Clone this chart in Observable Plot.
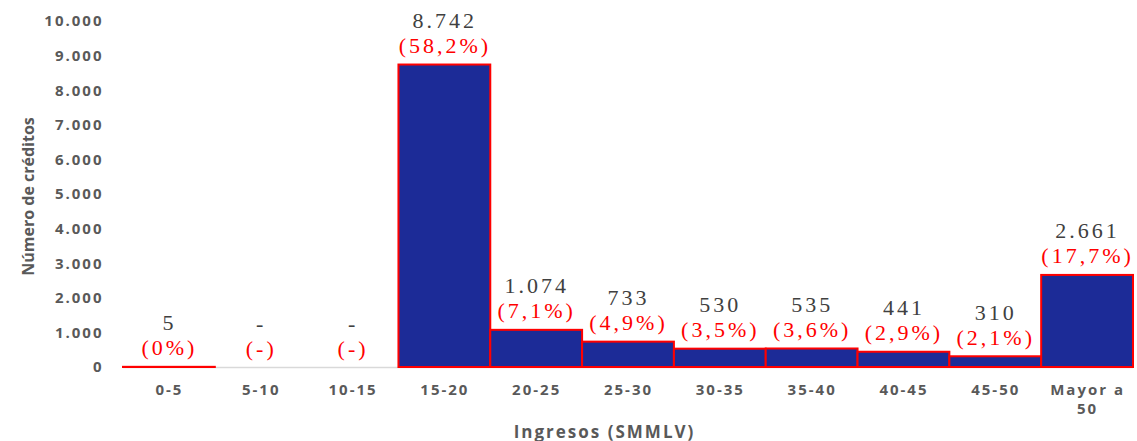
<!DOCTYPE html>
<html>
<head>
<meta charset="utf-8">
<script src="https://cdn.jsdelivr.net/npm/d3@7"></script>
<script src="https://cdn.jsdelivr.net/npm/@observablehq/plot@0.6"></script>
<style>
  html, body { margin: 0; padding: 0; background: #fff; }
  #chart svg { display: block; }
  g[aria-label="y-axis tick label"] text,
  g[aria-label="x-axis tick label"] text { letter-spacing: 2px; }
  g.title-x text { letter-spacing: 2px; }
  g.bar-label text { letter-spacing: 3px; }
</style>
</head>
<body>
<div id="chart"></div>
<script>
// Income ranges (SMMLV) and number of credits in each range
const categories = ["0-5", "5-10", "10-15", "15-20", "20-25", "25-30", "30-35", "35-40", "40-45", "45-50", "Mayor a\n50"];
const credits = [5, 0, 0, 8742, 1074, 733, 530, 535, 441, 310, 2661];
// Share of total credits (%); null where the range has no credits
const shares = [0, null, null, 58.2, 7.1, 4.9, 3.5, 3.6, 2.9, 2.1, 17.7];
const yTicks = [0, 1000, 2000, 3000, 4000, 5000, 6000, 7000, 8000, 9000, 10000];

const locale = d3.formatLocale({decimal: ",", thousands: ".", grouping: [3], currency: ["", ""]});
const fmtInt = locale.format(",d");
const fmtPct = locale.format(",.1f");

const rows = categories.map((c, i) => ({
  cat: c,
  value: credits[i],
  valueLabel: credits[i] === 0 ? "-" : fmtInt(credits[i]),
  pctLabel: shares[i] === null ? "(-)" : shares[i] === 0 ? "(0%)" : `(${fmtPct(shares[i])}%)`
}));

const axisFont = "'Open Sans', sans-serif";
const serif = "'Liberation Serif', 'Times New Roman', serif";

const chart = Plot.plot({
  width: 1137,
  height: 441,
  marginLeft: 123,
  marginRight: 4,
  marginTop: 21,
  marginBottom: 74,
  style: {background: "#fff", overflow: "visible"},
  x: {domain: categories, padding: 0, round: false, label: null},
  y: {domain: [0, 10000], label: null},
  marks: [
    Plot.ruleY([0], {stroke: "#d9d9d9", strokeWidth: 1.5}),
    Plot.barY(rows.filter(d => d.value > 0), {
      x: "cat", y: "value", fill: "#1c2b97", stroke: "#ff0000", strokeWidth: 2, inset: 0
    }),
    Plot.axisY({
      ticks: yTicks, tickSize: 0, tickPadding: 20, tickFormat: fmtInt, label: null,
      fontSize: 15, fontWeight: 700, fontFamily: axisFont, fill: "#595959"
    }),
    Plot.axisX({
      tickSize: 0, tickPadding: 14, label: null, lineHeight: 1.27,
      fontSize: 15, fontWeight: 700, fontFamily: axisFont, fill: "#595959"
    }),
    Plot.text(rows, {
      x: "cat", y: "value", text: "valueLabel", className: "bar-label",
      dy: -44, fontSize: 22, fontFamily: serif, fill: "#404040"
    }),
    Plot.text(rows, {
      x: "cat", y: "value", text: "pctLabel", className: "bar-label",
      dy: -19, fontSize: 22, fontFamily: serif, fill: "#ff0000"
    }),
    Plot.text(["Número de créditos"], {
      frameAnchor: "left", textAnchor: "middle", lineAnchor: "middle", rotate: -90, dx: -95, dy: 2,
      fontSize: 16, fontWeight: 700, fontFamily: axisFont, fill: "#595959"
    }),
    Plot.text(["Ingresos (SMMLV)"], {
      frameAnchor: "bottom", textAnchor: "middle", lineAnchor: "middle", dx: -24, dy: 65, className: "title-x",
      fontSize: 17, fontWeight: 700, fontFamily: axisFont, fill: "#595959"
    })
  ]
});

document.getElementById("chart").appendChild(chart);
</script>
</body>
</html>
